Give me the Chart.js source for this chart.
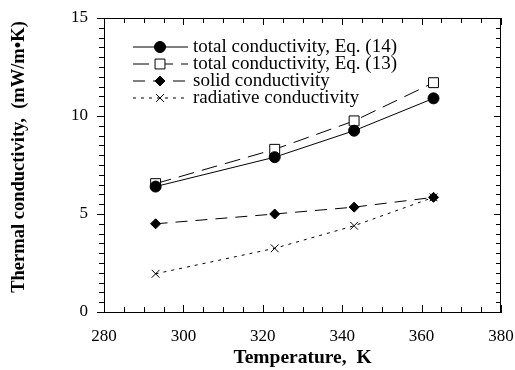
<!DOCTYPE html>
<html>
<head>
<meta charset="utf-8">
<script src="https://cdn.jsdelivr.net/npm/chart.js@4/dist/chart.umd.min.js"></script>
<style>
  html, body { margin: 0; padding: 0; background: #fff; }
</style>
</head>
<body>
<canvas id="condChart" width="515" height="370"></canvas>
<script>
// data
var temps = [293, 323, 343, 363];
var totalEq14 = [6.4, 7.9, 9.25, 10.9];
var totalEq13 = [6.55, 8.3, 9.75, 11.7];
var solidCond = [4.5, 5.0, 5.35, 5.85];
var radCond = [1.95, 3.25, 4.4, 5.85];
var seriesLabels = [
    'total conductivity, Eq. (14)',
    'total conductivity, Eq. (13)',
    'solid conductivity',
    'radiative conductivity'
];
var xTicks = [280, 300, 320, 340, 360, 380];
var yTicks = [0, 5, 10, 15];
var yTitle = 'Thermal conductivity,  (mW/m\u2022K)';

var serif = "'Liberation Serif', 'DejaVu Serif', serif";

function pts(ys) {
    return temps.map(function(t, i) { return {x: t, y: ys[i]}; });
}

function makeSet(label, ys, dash, style, radius, fill) {
    return {
        label: label,
        data: pts(ys),
        borderColor: '#000',
        borderWidth: 1,
        borderDash: dash,
        pointStyle: style,
        pointRadius: radius,
        pointBorderColor: '#000',
        pointBorderWidth: 1,
        pointBackgroundColor: fill,
        fill: false,
        tension: 0
    };
}

// frame, tick marks, y title and legend drawn on top
var decorPlugin = {
    id: 'decor',
    afterDraw: function(chart) {
        var ctx = chart.ctx;
        var a = chart.chartArea;
        var xs = chart.scales.x, ys = chart.scales.y;
        ctx.save();
        ctx.strokeStyle = '#000';
        ctx.lineWidth = 1;
        ctx.beginPath();
        ctx.moveTo(a.left, a.top + 0.5); ctx.lineTo(a.right, a.top + 0.5);
        ctx.moveTo(a.right - 0.5, a.top); ctx.lineTo(a.right - 0.5, a.bottom);
        // y ticks: outside on the left, inside on the right
        for (var v = 0; v <= 15; v += 0.5) {
            var py = Math.round(ys.getPixelForValue(v)) + 0.5;
            var len = (v % 5 === 0) ? 7 : 5;
            ctx.moveTo(a.left - len, py); ctx.lineTo(a.left, py);
            ctx.moveTo(a.right, py); ctx.lineTo(a.right - len, py);
        }
        // x ticks: inside, bottom and top
        for (var t = 280; t <= 380; t += 5) {
            var px = Math.round(xs.getPixelForValue(t)) + 0.5;
            var l2 = (t % 20 === 0) ? 7 : 5;
            ctx.moveTo(px, a.bottom); ctx.lineTo(px, a.bottom - l2);
            ctx.moveTo(px, a.top); ctx.lineTo(px, a.top + l2);
        }
        ctx.stroke();

        // y axis title, sits a little above the centre like the original
        ctx.save();
        ctx.translate(19, 157);
        ctx.rotate(-Math.PI / 2);
        ctx.font = 'bold 18.5px ' + serif;
        ctx.textAlign = 'center';
        ctx.textBaseline = 'middle';
        ctx.fillStyle = '#000';
        ctx.fillText(yTitle, 0, 0);
        ctx.restore();

        // legend: line sample with marker in the middle
        var rowY = [47, 64, 81, 98];
        ctx.font = '19px ' + serif;
        ctx.textBaseline = 'middle';
        chart.data.datasets.forEach(function(ds, i) {
            var y = rowY[i];
            ctx.beginPath();
            ctx.setLineDash(ds.borderDash || []);
            ctx.moveTo(133, y); ctx.lineTo(188, y);
            ctx.stroke();
            ctx.setLineDash([]);
            ctx.fillStyle = ds.pointBackgroundColor;
            Chart.helpers.drawPoint(ctx, {
                pointStyle: ds.pointStyle,
                radius: ds.pointRadius,
                rotation: 0,
                borderWidth: 1
            }, 160, y);
            ctx.fillStyle = '#000';
            ctx.fillText(ds.label, 193, y);
        });
        ctx.restore();
    }
};

var condChart = new Chart(document.getElementById('condChart').getContext('2d'), {
    type: 'line',
    data: {
        datasets: [
            makeSet(seriesLabels[0], totalEq14, [], 'circle', 5.5, '#000'),
            makeSet(seriesLabels[1], totalEq13, [16, 8], 'rect', 7, '#fff'),
            makeSet(seriesLabels[2], solidCond, [12, 8], 'rectRot', 5, '#000'),
            makeSet(seriesLabels[3], radCond, [3, 5], 'crossRot', 5.5, '#000')
        ]
    },
    options: {
        responsive: false,
        animation: false,
        devicePixelRatio: 1,
        layout: { padding: { top: 18, right: 14, left: 0, bottom: 0 } },
        plugins: {
            legend: { display: false },
            tooltip: { enabled: false }
        },
        scales: {
            x: {
                type: 'linear',
                min: 280,
                max: 380,
                afterFit: function(s) {
                    s.height = 58;
                    s.paddingLeft = 0;
                    s.paddingRight = 0;
                },
                afterBuildTicks: function(s) {
                    s.ticks = xTicks.map(function(v) { return {value: v}; });
                },
                grid: { display: false, drawTicks: false },
                border: { display: true, color: '#000', width: 1 },
                ticks: {
                    color: '#000',
                    padding: 14,
                    maxRotation: 0,
                    autoSkip: false,
                    font: { family: serif, size: 17 }
                },
                title: {
                    display: true,
                    text: 'Temperature,  K',
                    color: '#000',
                    padding: { top: 0, bottom: 0 },
                    font: { family: serif, size: 19.5, weight: 'bold' }
                }
            },
            y: {
                min: 0,
                max: 15,
                afterFit: function(s) {
                    s.width = 104;
                    s.paddingTop = 0;
                    s.paddingBottom = 0;
                },
                afterBuildTicks: function(s) {
                    s.ticks = yTicks.map(function(v) { return {value: v}; });
                },
                grid: { display: false, drawTicks: false },
                border: { display: true, color: '#000', width: 1 },
                ticks: {
                    color: '#000',
                    padding: 16,
                    autoSkip: false,
                    font: { family: serif, size: 17 }
                },
                title: { display: false }
            }
        }
    },
    plugins: [decorPlugin]
});
</script>
</body>
</html>
